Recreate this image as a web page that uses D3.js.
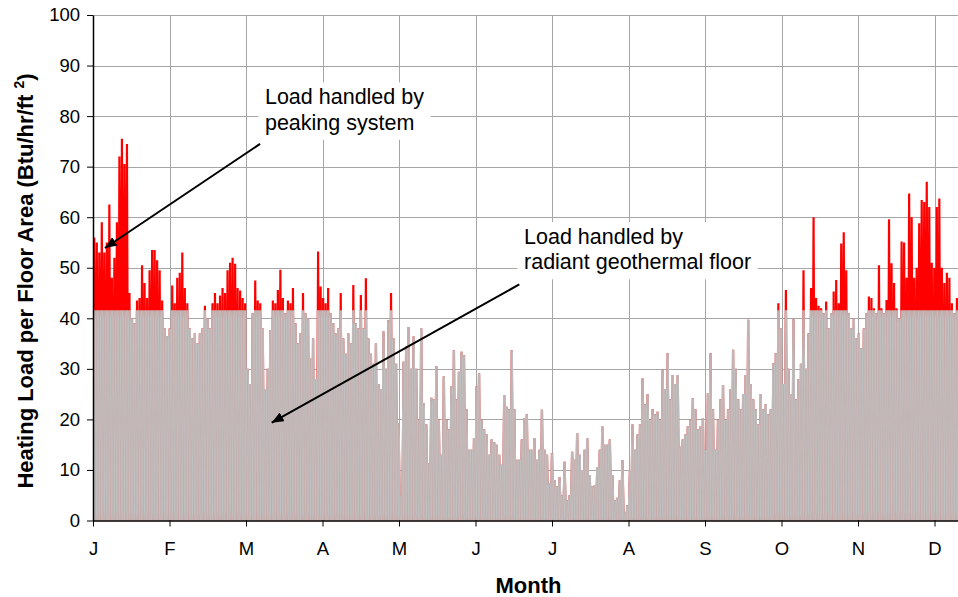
<!DOCTYPE html>
<html><head><meta charset="utf-8">
<script src="https://cdn.jsdelivr.net/npm/d3@7"></script>
<style>
body{margin:0;background:#fff;}
svg{display:block;font-family:"Liberation Sans",Arial,Helvetica,sans-serif;}
</style></head><body>
<svg id="chart" width="958" height="597"></svg>
<script>
// ---------------- data ----------------
const monthLabels = ["J","F","M","A","M","J","J","A","S","O","N","D"];
const monthTickHours = [0,730,1460,2190,2920,3650,4380,5110,5840,6570,7300,8030];
const yTickValues = [0,10,20,30,40,50,60,70,80,90,100];
const hoursPerYear = 8760;
const radiantCapacity = 41.6;   // Btu/hr/ft2 handled by the radiant geothermal floor
// daily peak heating load (Btu/hr/ft2), day 0 = 1 Jan
const dailyPeak = [
  56,55,53,59,53,55,62.5,48,52,59,
  72,75.5,70.5,74.5,45,40,39,43.5,44,50.5,
  47,44,49.5,53.5,53.5,51.5,49.5,43.5,38,36.5,
  38,46.5,43,48,49,53,46,43,38,36,
  37,35,37,38,42.5,40,38,43,45,43,
  44.5,46,45,49.5,51,52,50.8,46,45.5,44,
  43,30,27,41,47.5,43.5,43,38,26,30,
  37.7,43.5,43,45.6,49.6,44,41,43.5,43,46,
  39,35,37,45,41,40,32,36,28,53.2,
  46.3,44,43,46,41,39,37,38,45,36,
  33,37,35,46.6,39,38,44.6,38,47.9,36,
  33,31,35,27,26,37.4,30,39.6,45,36,
  31,19.3,5,31.4,34.4,38.3,30,36.4,30,20,
  38,23.2,19,11.3,24.3,24,30.5,20,13,28.5,
  20,18,26.5,33.7,24,29.4,33.4,32.7,22,14,
  14,16.3,26.5,29.1,20,18,17,13,16,15.5,
  15,13,11,24.8,22.5,22,33.7,22,12,12,
  16,20.2,21,14,14,16.3,12,14,21.9,14,
  13,7.3,13.3,8,6.7,8.6,5,11.6,4,5,
  13.6,12,17.3,13,10,14,16.3,9,6.7,7,
  10.6,14,18.6,15,15,16,9,4,4.5,8,
  11.9,1.5,3,10,19,14,17,19,28.1,23,
  25,20,22,21,21.5,20,29.8,26,33.1,24,
  28.8,27,28.8,14.6,16,17,18.6,20,24.2,22,
  18,18.6,20.2,14,25.2,33.1,22,14,20,24,
  26.8,20,22,26,33.8,30,24,22,25,28.8,
  39.7,27,24,22,19,25,22,23,21,22,
  31.1,33.1,43,38,27,45.6,30,25,39.8,24,
  28,31,49.5,30,37,46,60,44,42.5,42,
  41,43.3,38,41,45.3,47.6,43,54.8,57,49.5,
  41,38,40,36,37,34,38,41,44.3,44,
  42,41,50.5,42,41,43.6,59.6,50.9,47,42,
  40,55.2,55,48,64.7,60,48,50,58.8,63.4,
  63,67,62,51,50,62,63.7,50,47,49,
  48,43,41,44,47.6,46
];
const dailyTrough = 0;   // overnight load falls back to zero
const annotationTexts = [
  {lines:["Load handled by","peaking system"], hour:1641, value:82.3, arrowFrom:[1594,74.5], arrowTo:[114,53.9]},
  {lines:["Load handled by","radiant geothermal floor"], hour:4113, value:54.7, arrowFrom:[4068,46.7], arrowTo:[1705,19.35]}
];

// ---------------- layout ----------------
const W = 958, H = 597;
const margin = {left:93, top:15};
const plotW = 918, plotH = 505.5;
const svg = d3.select("#chart");

const x = d3.scaleLinear().domain([0, hoursPerYear]).range([margin.left, margin.left + plotW]);
const y = d3.scaleLinear().domain([0, 100]).range([margin.top + plotH, margin.top]);

// series
const totalLoad = [];
dailyPeak.forEach((p, d) => {
  totalLoad.push({hour: d * 24, load: dailyTrough});
  totalLoad.push({hour: d * 24 + 12, load: p});
});
const radiantLoad = totalLoad.map(p => ({hour: p.hour, load: Math.min(p.load, radiantCapacity)}));

svg.append("rect").attr("width", W).attr("height", H).attr("fill", "#fff");

svg.append("defs").append("clipPath").attr("id", "plotClip")
  .append("rect").attr("x", margin.left).attr("y", margin.top).attr("width", W - margin.left).attr("height", plotH);

// gridlines
const grid = svg.append("g").attr("stroke", "#a6a6a6").attr("stroke-width", 1);
grid.selectAll("line.h").data(yTickValues.filter(v => v > 0)).join("line")
  .attr("x1", margin.left).attr("x2", W)
  .attr("y1", d => Math.round(y(d)) + 0.5).attr("y2", d => Math.round(y(d)) + 0.5);
grid.selectAll("line.v").data(monthTickHours.filter(h => h > 0)).join("line")
  .attr("x1", d => Math.round(x(d)) + 0.5).attr("x2", d => Math.round(x(d)) + 0.5)
  .attr("y1", margin.top).attr("y2", margin.top + plotH);

const line = d3.line().x(d => x(d.hour)).y(d => y(d.load));
const series = svg.append("g").attr("clip-path", "url(#plotClip)");
series.append("path").datum(totalLoad).attr("d", line)
  .attr("fill", "none").attr("stroke", "#ff0000").attr("stroke-width", 2.2);
series.append("path").datum(radiantLoad).attr("d", line)
  .attr("fill", "none").attr("stroke", "#c0c0c0").attr("stroke-width", 2.4);
series.append("path").datum(radiantLoad).attr("d", line)
  .attr("fill", "none").attr("stroke", "#ff0000").attr("stroke-opacity", 0.1).attr("stroke-width", 0.6);

// axes
const fontTick = 18.5;
const yAxis = d3.axisLeft(y).tickValues(yTickValues).tickSize(6).tickPadding(7).tickSizeOuter(0);
const gy = svg.append("g").attr("transform", `translate(${margin.left},0)`).call(yAxis);
gy.selectAll("text").attr("font-size", fontTick).attr("fill", "#000").attr("font-family", "Liberation Sans, Arial, sans-serif");
gy.selectAll("line").attr("stroke", "#000");
gy.select(".domain").attr("stroke", "#000").attr("stroke-width", 1.5);

const xAxis = d3.axisBottom(x).tickValues(monthTickHours).tickFormat((d, i) => monthLabels[i]).tickSize(6).tickPadding(15).tickSizeOuter(0);
const gx = svg.append("g").attr("transform", `translate(0,${margin.top + plotH})`).call(xAxis);
gx.selectAll("text").attr("font-size", fontTick).attr("fill", "#000").attr("font-family", "Liberation Sans, Arial, sans-serif");
gx.selectAll("line").attr("stroke", "#000");
gx.select(".domain").attr("stroke", "#000").attr("stroke-width", 1.5);

// axis titles
svg.append("text").attr("x", 528.5).attr("y", 593).attr("text-anchor", "middle")
  .attr("font-size", 22).attr("font-weight", "bold").text("Month");
const yt = svg.append("text").attr("transform", "translate(33,281) rotate(-90)").attr("text-anchor", "middle")
  .attr("font-size", 22).attr("font-weight", "bold");
yt.append("tspan").text("Heating Load per Floor Area (Btu/hr/ft ");
yt.append("tspan").attr("dy", -9).attr("font-size", 14).text("2");
yt.append("tspan").attr("dy", 9).text(")");

// annotations
svg.append("defs").append("marker").attr("id", "arrowHead")
  .attr("viewBox", "0 0 12 10").attr("refX", 12).attr("refY", 5)
  .attr("markerWidth", 12).attr("markerHeight", 10).attr("markerUnits", "userSpaceOnUse")
  .attr("orient", "auto")
  .append("path").attr("d", "M0,0 L12,5 L0,10 Z").attr("fill", "#000");

annotationTexts.forEach(a => {
  const g = svg.append("g");
  const t = g.append("text").attr("font-size", 21.5).attr("fill", "#000");
  a.lines.forEach((s, i) => t.append("tspan").attr("x", x(a.hour)).attr("y", y(a.value) + i * 25.3).text(s));
  const bb = t.node().getBBox();
  g.insert("rect", "text").attr("x", bb.x - 6.5).attr("y", bb.y - 3).attr("width", bb.width + 13).attr("height", bb.height + 8).attr("fill", "#fff");
  svg.append("line")
    .attr("x1", x(a.arrowFrom[0])).attr("y1", y(a.arrowFrom[1]))
    .attr("x2", x(a.arrowTo[0])).attr("y2", y(a.arrowTo[1]))
    .attr("stroke", "#000").attr("stroke-width", 2).attr("marker-end", "url(#arrowHead)");
});
</script>
</body></html>
